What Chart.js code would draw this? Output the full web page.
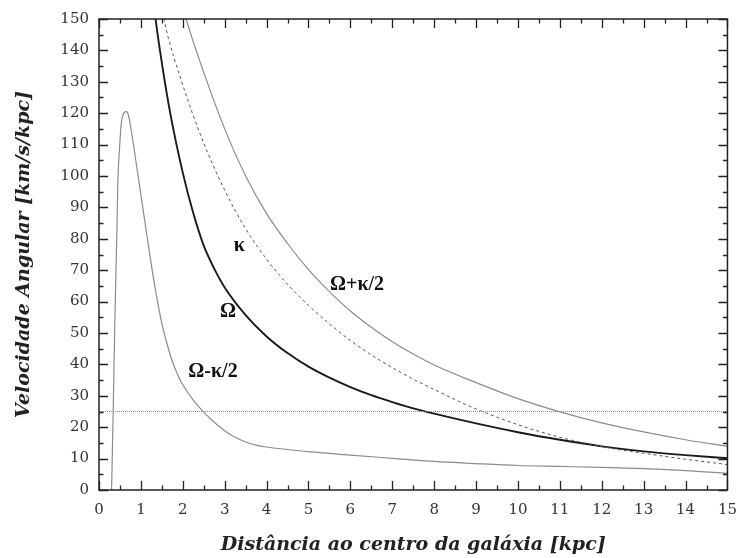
<!DOCTYPE html>
<html>
<head>
<meta charset="utf-8">
<script src="https://cdn.jsdelivr.net/npm/chart.js@4.4.0/dist/chart.umd.min.js"></script>
<style>
    html, body { margin: 0; padding: 0; background: #fff; }
    #box { width: 748px; height: 558px; }
</style>
</head>
<body>
<div id="box"><canvas id="myChart" width="748" height="558"></canvas></div>
<script>

// Omega (thick black)
var omegaR = [1.3, 1.35, 1.5, 1.7, 2.0, 2.25, 2.5, 2.75, 3.0, 3.5, 4.0, 4.5, 5.0, 5.5, 6.0, 6.5, 7.0, 7.5, 8.0, 9.0, 10.0, 11.0, 12.0, 13.0, 14.0, 15.0];
var omegaV = [156, 150, 136, 120, 101, 88.2, 77.8, 70.5, 64.5, 55.7, 48.9, 43.6, 39.3, 35.8, 32.8, 30.2, 28.0, 26.0, 24.3, 21.2, 18.4, 16.0, 13.9, 12.3, 11.1, 10.1];

// kappa (dashed)
var kappaR = [1.5, 1.55, 2.0, 2.5, 3.0, 3.5, 4.0, 4.5, 5.0, 5.5, 6.0, 6.5, 7.0, 7.5, 8.0, 9.0, 10.0, 11.0, 12.0, 13.0, 14.0, 15.0];
var kappaV = [154, 150, 129, 110.5, 95.5, 83.2, 73.5, 65.5, 58.8, 52.9, 47.6, 43.0, 39.0, 35.3, 32.0, 25.8, 20.8, 16.8, 13.8, 11.7, 9.8, 8.1];

// Omega + kappa/2
var plusR = [2.0, 2.08, 2.5, 3.0, 3.5, 4.0, 4.5, 5.0, 5.5, 6.0, 6.5, 7.0, 7.5, 8.0, 9.0, 10.0, 11.0, 12.0, 13.0, 14.0, 15.0];
var plusV = [154, 150, 133, 115, 100, 88, 78.5, 70.2, 63.2, 57.0, 51.8, 47.2, 43.3, 39.8, 34.2, 29.1, 24.9, 21.4, 18.5, 16.0, 13.9];

// Omega - kappa/2
var minusR = [0.3, 0.34, 0.38, 0.42, 0.45, 0.5, 0.53, 0.6, 0.65, 0.7, 0.8, 0.9, 1.0, 1.1, 1.2, 1.3, 1.4, 1.5, 1.625, 1.75, 1.875, 2.0, 2.25, 2.5, 2.75, 3.0, 3.25, 3.5, 3.75, 4.0, 4.5, 5.0, 6.0, 7.0, 8.0, 9.0, 10.0, 11.0, 12.0, 13.0, 14.0, 15.0];
var minusV = [0, 26, 55, 78, 98, 111, 116.5, 120.2, 120.5, 119.5, 112, 103, 94, 85, 76, 67.5, 59.8, 53, 46.5, 41.0, 36.8, 33.5, 28.6, 24.8, 21.6, 18.9, 16.8, 15.3, 14.3, 13.7, 12.9, 12.2, 11.1, 10.1, 9.1, 8.4, 7.8, 7.5, 7.2, 6.8, 6.2, 5.3];

// horizontal reference level
var refR = [0, 15];
var refV = [25, 25];

// curve labels (text, r, value)
var curveLabels = [
    { text: "\u03ba", x: 3.35, y: 77.9 },
    { text: "\u03a9+\u03ba/2", x: 6.16, y: 65.2 },
    { text: "\u03a9", x: 3.08, y: 56.8 },
    { text: "\u03a9-\u03ba/2", x: 2.72, y: 37.5 }
];

function toPoints(xs, ys) {
    return xs.map((x, i) => ({ x: x, y: ys[i] }));
}

function lineSet(label, xs, ys, color, width, dash) {
    return {
        label: label,
        data: toPoints(xs, ys),
        showLine: true,
        borderColor: color,
        backgroundColor: color,
        borderWidth: width,
        borderDash: dash || [],
        pointRadius: 0,
        cubicInterpolationMode: 'monotone'
    };
}

// frame, inward ticks on all four sides and curve labels
var framePlugin = {
    id: 'frame',
    afterDatasetsDraw: function (chart) {
        let ctx = chart.ctx;
        let a = chart.chartArea;
        let xs = chart.scales.x;
        let ys = chart.scales.y;

        ctx.save();
        ctx.strokeStyle = '#222';
        ctx.lineWidth = 1.5;
        ctx.strokeRect(a.left, a.top, a.right - a.left, a.bottom - a.top);

        ctx.lineWidth = 1.3;
        ctx.beginPath();
        for (let v = 0; v <= 15.001; v += 0.5) {
            let px = Math.round(xs.getPixelForValue(v)) + 0.5;
            let len = (Math.abs(v - Math.round(v)) < 0.01) ? 9 : 4.5;
            ctx.moveTo(px, a.bottom); ctx.lineTo(px, a.bottom - len);
            ctx.moveTo(px, a.top); ctx.lineTo(px, a.top + len);
        }
        for (let v = 0; v <= 150.001; v += 5) {
            let py = Math.round(ys.getPixelForValue(v)) + 0.5;
            let len = (v % 10 === 0) ? 9 : 4.5;
            ctx.moveTo(a.left, py); ctx.lineTo(a.left + len, py);
            ctx.moveTo(a.right, py); ctx.lineTo(a.right - len, py);
        }
        ctx.stroke();

        ctx.fillStyle = '#111';
        ctx.textAlign = 'center';
        ctx.textBaseline = 'middle';
        ctx.font = 'bold 20px "Liberation Serif"';
        curveLabels.forEach(l => {
            ctx.fillText(l.text, xs.getPixelForValue(l.x), ys.getPixelForValue(l.y));
        });
        ctx.restore();
    }
};

var tickFont = { family: '"DejaVu Serif"', size: 15 };
var titleFont = { family: '"DejaVu Serif"', size: 19, weight: 'bold', style: 'italic' };

var ctx = document.getElementById("myChart").getContext("2d");
var myChart = new Chart(ctx, {
    type: 'scatter',
    data: {
        datasets: [
            lineSet('ref', refR, refV, '#8a8a8a', 1, [1, 1]),
            lineSet('Omega-kappa/2', minusR, minusV, '#8c8c8c', 1.2),
            lineSet('Omega+kappa/2', plusR, plusV, '#8c8c8c', 1.2),
            lineSet('kappa', kappaR, kappaV, '#555', 1, [3, 3]),
            lineSet('Omega', omegaR, omegaV, '#1a1a1a', 1.9)
        ]
    },
    options: {
        responsive: false,
        animation: false,
        layout: { padding: { left: 0, top: 15, right: 10, bottom: 0 } },
        plugins: {
            legend: { display: false },
            tooltip: { enabled: false }
        },
        scales: {
            x: {
                type: 'linear',
                min: 0,
                max: 15,
                grid: { display: false, drawTicks: false },
                border: { display: false },
                ticks: { stepSize: 1, padding: 11, color: '#333', font: tickFont, maxRotation: 0 },
                title: {
                    display: true,
                    text: 'Dist\u00e2ncia ao centro da gal\u00e1xia [kpc]',
                    color: '#222',
                    font: titleFont,
                    padding: { top: 0, bottom: 2 }
                },
                afterFit: function (scale) { scale.height = 68; }
            },
            y: {
                type: 'linear',
                min: 0,
                max: 150,
                grid: { display: false, drawTicks: false },
                border: { display: false },
                ticks: { stepSize: 10, padding: 10, color: '#333', font: tickFont },
                title: {
                    display: true,
                    text: 'Velocidade Angular [km/s/kpc]',
                    color: '#222',
                    font: titleFont,
                    padding: { top: 13, bottom: 0 }
                },
                afterFit: function (scale) { scale.width = 99; }
            }
        }
    },
    plugins: [framePlugin]
});
</script>
</body>
</html>
